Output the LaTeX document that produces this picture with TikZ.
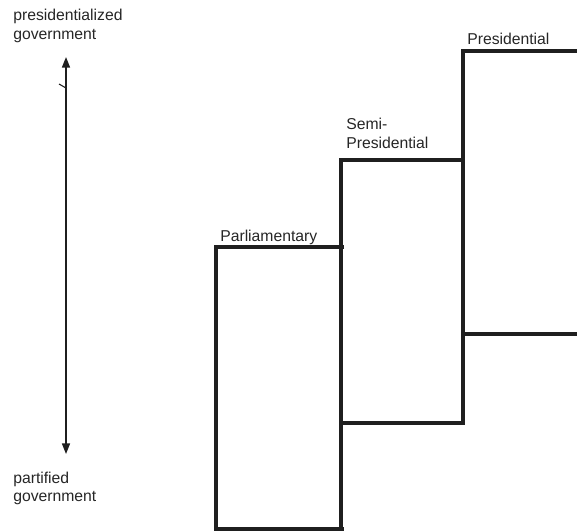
\documentclass[tikz,border=0pt]{standalone}
\usepackage{fontspec}
\setmainfont{Liberation Sans}
\usetikzlibrary{arrows.meta}
\begin{document}
\begin{tikzpicture}[x=0.75pt,y=-0.75pt,
  lbl/.style={anchor=base west,inner sep=0pt,font=\fontsize{11.8}{14}\selectfont,text=black!85},
  stair/.style={line width=3.4pt,draw=black!88,line join=miter},
  scale arrow/.style={line width=1.2pt,draw=black!88,{Triangle[length=8pt,width=6pt]}-{Triangle[length=8pt,width=6pt]}}]
\useasboundingbox (0,0) rectangle (577,531);
% axis labels
\node[lbl] (top1) at (13,21) {presidentialized};
\node[lbl] (top2) at (13,40) {government};
\node[lbl] (bot1) at (13,483) {partified};
\node[lbl] (bot2) at (13,501) {government};
% vertical scale arrow
\coordinate (aup) at (66,57);
\coordinate (adown) at (66,454);
\draw[scale arrow] (aup) -- (adown);
\coordinate (tickA) at (59,84);
\coordinate (tickB) at (66,88);
\draw[line width=0.8pt,draw=black!88] (tickA) -- (tickB);
% step labels
\node[lbl] (parl) at (220,241) {Parliamentary};
\node[lbl] (semi1) at (346,130) {Semi-};
\node[lbl] (semi2) at (346,148) {Presidential};
\node[lbl] (pres) at (467,45) {Presidential};
% corner coordinates
\coordinate (p1) at (344,247);
\coordinate (p2) at (216,247);
\coordinate (p3) at (216,529);
\coordinate (p4) at (344,529);
\coordinate (s1) at (341,529);
\coordinate (s2) at (341,160);
\coordinate (s3) at (463,160);
\coordinate (s4) at (341,423);
\coordinate (s5) at (463,423);
\coordinate (r1) at (463,51);
\coordinate (r2) at (577,51);
\coordinate (r3) at (463,334);
\coordinate (r4) at (577,334);
% stairs
\draw[stair] (p1) -- (p2) -- (p3) -- (p4);
\draw[stair] (s1) -- (s2) -- (s3);
\draw[stair] (s4) -- (s5) -- (r1) -- (r2);
\draw[stair] (r3) -- (r4);
\end{tikzpicture}
\end{document}
